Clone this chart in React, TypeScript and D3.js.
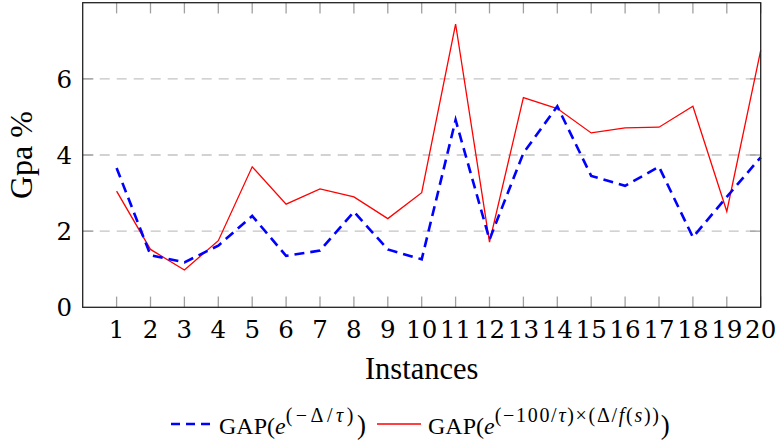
import React from "react";
import * as d3 from "d3";

const instances = [1, 2, 3, 4, 5, 6, 7, 8, 9, 10, 11, 12, 13, 14, 15, 16, 17, 18, 19, 20];
const gapDelta = [3.66, 1.37, 1.18, 1.62, 2.4, 1.35, 1.49, 2.51, 1.52, 1.26, 4.92, 1.78, 4.05, 5.28, 3.45, 3.19, 3.69, 1.84, 2.9, 3.94];
const gapF = [3.05, 1.52, 0.98, 1.75, 3.69, 2.71, 3.11, 2.9, 2.33, 3.01, 7.44, 1.71, 5.51, 5.22, 4.58, 4.71, 4.73, 5.28, 2.52, 6.75];
const yTicks = [0, 2, 4, 6];
const gridTicks = [2, 4, 6];

const W = 777;
const H = 446;
const L = 82.7, R = 760.7, T = 2.7, B = 307.3;

export default function App() {
  const x = d3.scaleLinear().domain([0, 20]).range([L, R]);
  const y = d3.scaleLinear().domain([0, 8]).range([B, T]);
  const line = d3
    .line<number>()
    .x((_, i) => x(instances[i]))
    .y((d) => y(d));
  const tick = 10.7;
  const serif = "'Liberation Serif', serif";
  const dv = "'DejaVu Serif', serif";
  return (
    <svg
      width={W}
      height={H}
      style={{ position: "absolute", left: 0, top: 0, background: "#fff" }}
    >
      {/* grid */}
      {gridTicks.map((t) => (
        <line key={"g" + t} x1={L} x2={R} y1={y(t)} y2={y(t)} stroke="#c4c4c4" strokeWidth={1.3} strokeDasharray="10 7" />
      ))}
      {/* x ticks */}
      {instances.map((t) => (
        <g key={"xt" + t} stroke="#a0a0a0" strokeWidth={1.3}>
          <line x1={x(t)} x2={x(t)} y1={B} y2={B - tick} />
          <line x1={x(t)} x2={x(t)} y1={T} y2={T + tick} />
        </g>
      ))}
      {/* y ticks */}
      {gridTicks.map((t) => (
        <g key={"yt" + t} stroke="#a0a0a0" strokeWidth={1.3}>
          <line x1={L} x2={L + tick} y1={y(t)} y2={y(t)} />
          <line x1={R} x2={R - tick} y1={y(t)} y2={y(t)} />
        </g>
      ))}
      {/* lines */}
      <path d={line(gapF) || ""} fill="none" stroke="#ff0000" strokeWidth={1.3} strokeLinejoin="miter" />
      <path d={line(gapDelta) || ""} fill="none" stroke="#0000ff" strokeWidth={2.6} strokeDasharray="10 6" />
      {/* frame */}
      <rect x={L} y={T} width={R - L} height={B - T} fill="none" stroke="#222" strokeWidth={1.3} />
      {/* x tick labels */}
      {instances.map((t) => (
        <text key={"xl" + t} x={x(t)} y={338} textAnchor="middle" fontFamily={dv} fontSize={24.5} fill="#000">
          {t}
        </text>
      ))}
      {/* y tick labels */}
      {yTicks.map((t) => (
        <text key={"yl" + t} x={72} y={y(t) + 8.8} textAnchor="end" fontFamily={dv} fontSize={24.5} fill="#000">
          {t}
        </text>
      ))}
      {/* axis titles */}
      <text x={(L + R) / 2} y={379.3} textAnchor="middle" fontFamily={serif} fontSize={30.5} fill="#000">
        Instances
      </text>
      <text
        transform={`translate(31.7,${(T + B) / 2}) rotate(-90)`}
        textAnchor="middle"
        fontFamily={serif}
        fontSize={32}
        fill="#000"
      >
        Gpa %
      </text>
      {/* legend */}
      <line x1={171} x2={210} y1={424} y2={424} stroke="#0000ff" strokeWidth={2.6} strokeDasharray="9 6" />
      <text x={219} y={434} fontFamily={serif} fontSize={24} fill="#000">
        <tspan>GAP(</tspan>
        <tspan fontStyle="italic">e</tspan>
        <tspan fontSize={20} dy={-12.5} letterSpacing={3.5}>(−Δ/<tspan fontStyle="italic">τ</tspan>)</tspan>
        <tspan dy={12.5} fontSize={27}>)</tspan>
      </text>
      <line x1={377} x2={421} y1={424} y2={424} stroke="#ff0000" strokeWidth={1.3} />
      <text x={428} y={434} fontFamily={serif} fontSize={24} fill="#000">
        <tspan>GAP(</tspan>
        <tspan fontStyle="italic">e</tspan>
        <tspan fontSize={20} dy={-12.5} letterSpacing={1.7}>
          (−100/<tspan fontStyle="italic">τ</tspan>)×(Δ/<tspan fontStyle="italic">f</tspan>(<tspan fontStyle="italic">s</tspan>))
        </tspan>
        <tspan dy={12.5} fontSize={27}>)</tspan>
      </text>
    </svg>
  );
}
